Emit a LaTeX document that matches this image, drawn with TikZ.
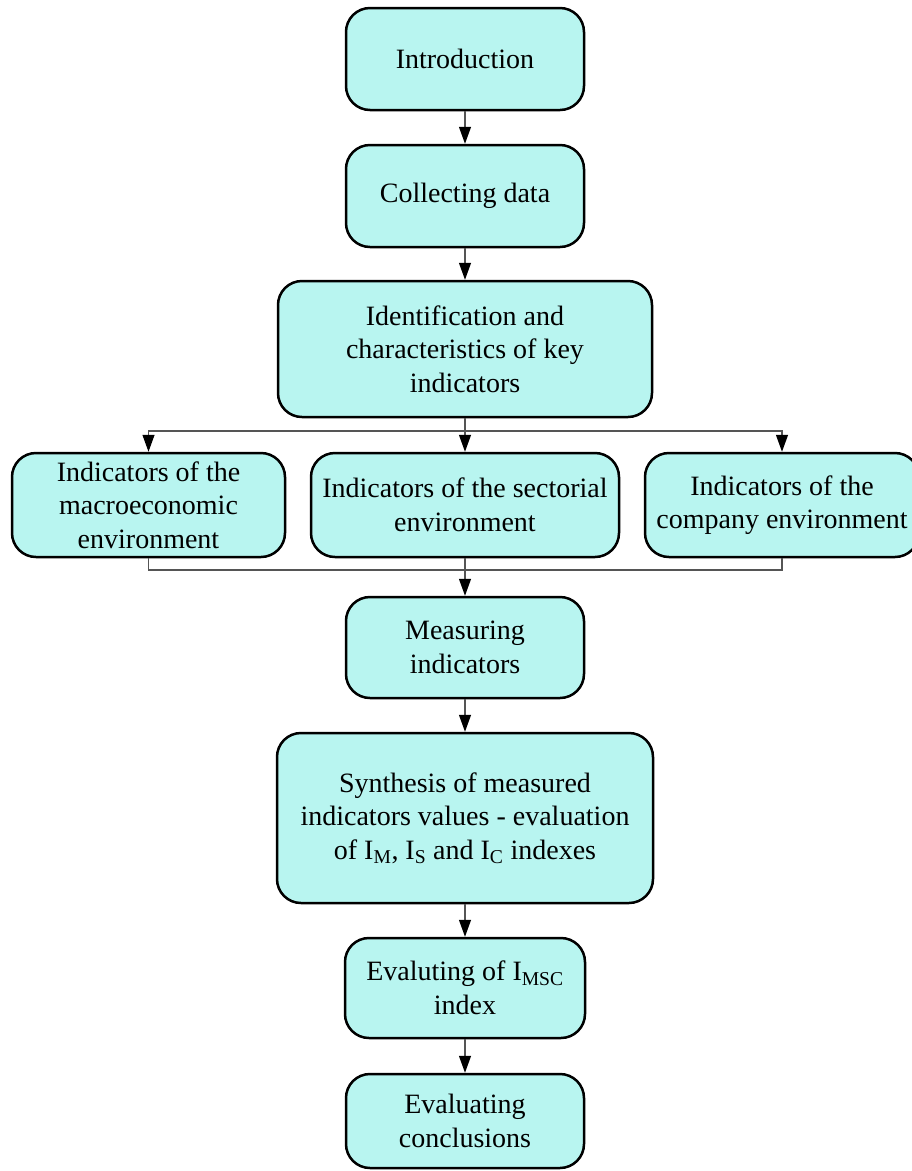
\documentclass[tikz,border=0pt]{standalone}
\usepackage{fontspec}
\setmainfont{Liberation Serif}
\usetikzlibrary{arrows.meta}
\definecolor{boxfill}{HTML}{B8F5F0}
\definecolor{linkgray}{HTML}{555555}
\begin{document}
\begin{tikzpicture}[x=1pt,y=-1pt,
  stagebox/.style={draw=black, line width=2.5pt, fill=boxfill, rounded corners=24pt,
    inner sep=0pt, align=center, font=\fontsize{28}{33.5}\selectfont},
  link/.style={draw=linkgray, line width=1.3pt},
  flow/.style={link, -{Triangle[length=17pt,width=12pt,fill=black,color=black]}}]
\useasboundingbox (0,0) rectangle (912,1171);

\node[stagebox, minimum width=238pt, minimum height=102pt] (intro) at (465,59) {Introduction};
\node[stagebox, minimum width=238pt, minimum height=102pt] (collect) at (465,196) {Collecting data};
\node[stagebox, minimum width=374pt, minimum height=136pt] (ident) at (465,349)
  {Identification and\\characteristics of key\\indicators};
\node[stagebox, minimum width=273pt, minimum height=104pt] (macro) at (148.5,505)
  {Indicators of the\\macroeconomic\\environment};
\node[stagebox, minimum width=308pt, minimum height=104pt] (sect) at (465,505)
  {Indicators of the sectorial\\environment};
\node[stagebox, minimum width=274pt, minimum height=104pt] (comp) at (782,505)
  {Indicators of the\\company environment};
\node[stagebox, minimum width=238pt, minimum height=101pt] (meas) at (465,647.5)
  {Measuring\\indicators};
\node[stagebox, minimum width=376pt, minimum height=170pt] (synth) at (465,818)
  {Synthesis of measured\\indicators values - evaluation\\of I\textsubscript{M}, I\textsubscript{S} and I\textsubscript{C} indexes};
\node[stagebox, minimum width=240pt, minimum height=100pt] (eimsc) at (465,988)
  {Evaluting of I\textsubscript{MSC}\\index};
\node[stagebox, minimum width=238pt, minimum height=94pt] (concl) at (465,1121)
  {Evaluating\\conclusions};

\coordinate (split) at (465,431);
\coordinate (merge) at (465,570);

\draw[flow] (intro) -- (collect);
\draw[flow] (collect) -- (ident);
\draw[link] (ident.south) -- (split);
\draw[flow] (split) -| (macro.north);
\draw[flow] (split) -| (comp.north);
\draw[flow] (ident.south) -- (sect.north);
\draw[link] (macro.south) |- (merge);
\draw[link] (comp.south) |- (merge);
\draw[flow] (sect.south) -- (meas.north);
\draw[flow] (meas) -- (synth);
\draw[flow] (synth) -- (eimsc);
\draw[flow] (eimsc) -- (concl);
\end{tikzpicture}
\end{document}
